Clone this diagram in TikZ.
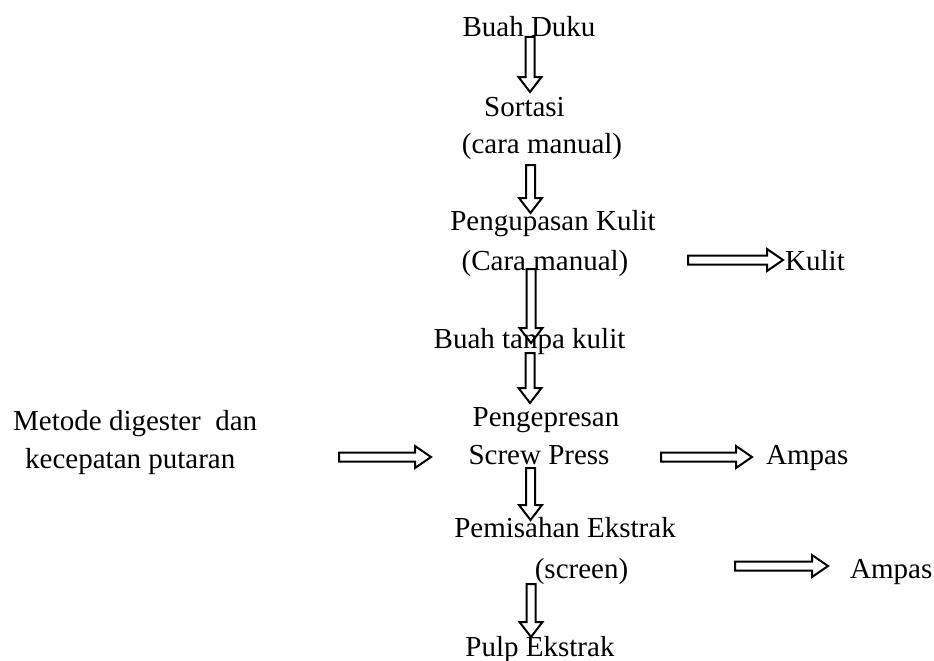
\documentclass[tikz,border=0pt]{standalone}
\usepackage{fontspec}
\setmainfont{Liberation Serif}
\usetikzlibrary{calc}
\begin{document}
\begin{tikzpicture}[x=1pt,y=-1pt,
  lbl/.style={inner sep=0pt, anchor=base, font=\fontsize{29}{35}\selectfont},
  lbll/.style={lbl, anchor=base west},
  downarrow/.style={draw, line width=2pt, line join=miter, to path={
    let \p1=(\tikztostart), \p2=(\tikztotarget) in
    (\x1-4.5pt,\y1) -- (\x1-4.5pt,\y2+15pt) -- (\x1-11.5pt,\y2+15pt) -- (\x1,\y2)
    -- (\x1+11.5pt,\y2+15pt) -- (\x1+4.5pt,\y2+15pt) -- (\x1+4.5pt,\y1) -- cycle}},
  rightarrow/.style={draw, line width=2pt, line join=miter, to path={
    let \p1=(\tikztostart), \p2=(\tikztotarget) in
    (\x1,\y1+4.5pt) -- (\x2-16pt,\y1+4.5pt) -- (\x2-16pt,\y1+11pt) -- (\x2,\y1)
    -- (\x2-16pt,\y1-11pt) -- (\x2-16pt,\y1-4.5pt) -- (\x1,\y1-4.5pt) -- cycle}}]
\useasboundingbox (0,0) rectangle (934,661);

% labels
\node[lbl] (duku) at (529,37) {Buah Duku};
\node[lbl] (sortasi) at (524.5,116) {Sortasi};
\node[lbl] (cara1) at (542,153) {(cara manual)};
\node[lbl] (kupas) at (553,230) {Pengupasan Kulit};
\node[lbl] (cara2) at (545,270) {(Cara manual)};
\node[lbll] (kulit) at (785,270) {Kulit};
\node[lbl] (tanpa) at (529.5,348) {Buah tanpa kulit};
\node[lbl] (press1) at (546,426) {Pengepresan};
\node[lbl] (press2) at (539,464) {Screw Press};
\node[lbll] (metode1) at (13,430) {Metode digester~ dan};
\node[lbll] (metode2) at (25,468) {kecepatan putaran};
\node[lbll] (ampas1) at (766,464) {Ampas};
\node[lbl] (pisah) at (565,537) {Pemisahan Ekstrak};
\node[lbl] (screen) at (581.5,578) {(screen)};
\node[lbll] (ampas2) at (850,578) {Ampas};
\node[lbl] (pulp) at (540,656) {Pulp Ekstrak};

% arrow end points
\coordinate (a1s) at (530,37);   \coordinate (a1e) at (530,92);
\coordinate (a2s) at (530.5,165); \coordinate (a2e) at (530.5,213);
\coordinate (a3s) at (531,269);  \coordinate (a3e) at (531,343);
\coordinate (a4s) at (530,353);  \coordinate (a4e) at (530,403);
\coordinate (a5s) at (530.5,468); \coordinate (a5e) at (530.5,520);
\coordinate (a6s) at (531,584);  \coordinate (a6e) at (531,637);
\coordinate (h1s) at (688,260);  \coordinate (h1e) at (783,260);
\coordinate (h2s) at (339,457);  \coordinate (h2e) at (431,457);
\coordinate (h3s) at (661,457);  \coordinate (h3e) at (752,457);
\coordinate (h4s) at (735,566);  \coordinate (h4e) at (828,566);

\draw[downarrow] (a1s) to (a1e);
\draw[downarrow] (a2s) to (a2e);
\draw[downarrow] (a3s) to (a3e);
\draw[downarrow] (a4s) to (a4e);
\draw[downarrow] (a5s) to (a5e);
\draw[downarrow] (a6s) to (a6e);
\draw[rightarrow] (h1s) to (h1e);
\draw[rightarrow] (h2s) to (h2e);
\draw[rightarrow] (h3s) to (h3e);
\draw[rightarrow] (h4s) to (h4e);
\end{tikzpicture}
\end{document}
